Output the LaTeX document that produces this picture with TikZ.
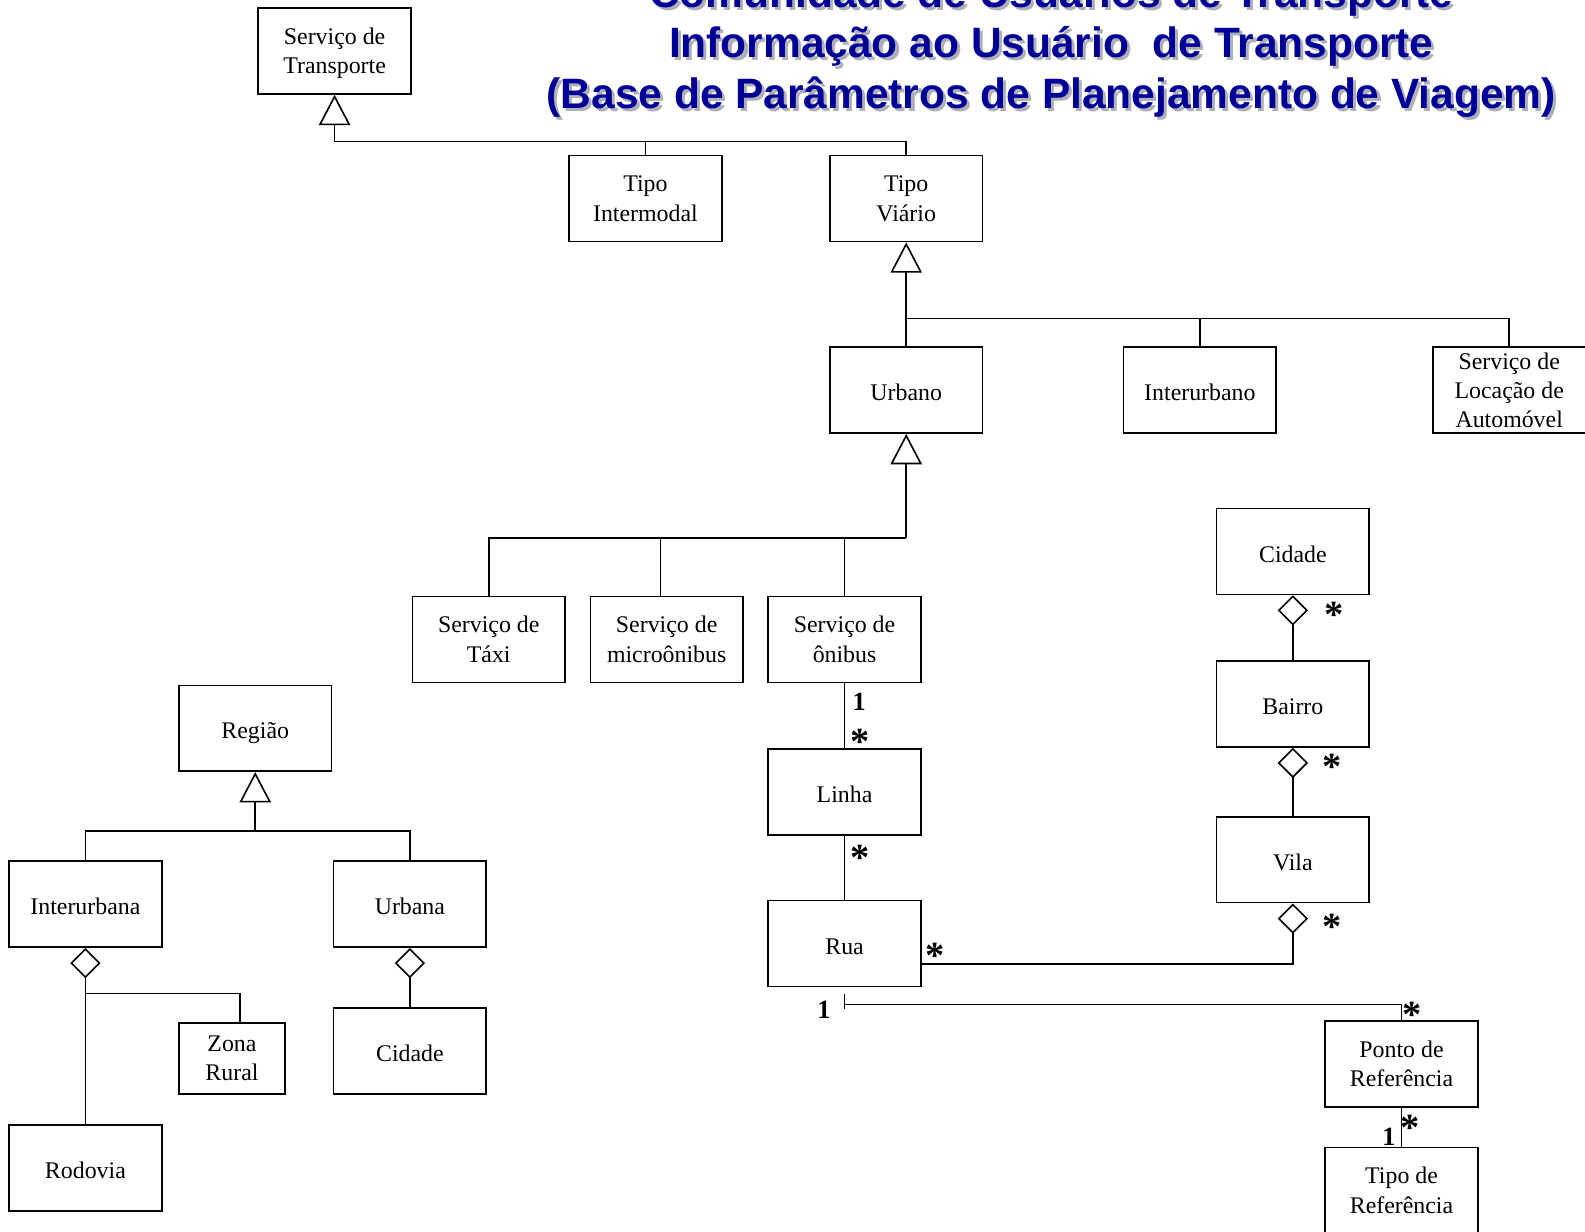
\documentclass[tikz,border=0pt]{standalone}
\usepackage{fontspec}
\setmainfont{Liberation Serif}
\newfontfamily\titlefont{Liberation Sans}
\usepackage{tikz}
\usetikzlibrary{arrows.meta,positioning,calc}
\definecolor{tituloAzul}{RGB}{0,0,153}
\definecolor{sombraCinza}{RGB}{175,175,185}
\tikzset{
	cls/.style={
		draw,
		line width=0.8pt,
		minimum width=75.5pt,
		minimum height=42.5pt,
		align=center,
		inner xsep=2pt,
		inner ysep=0pt,
		text depth=0pt,
		font=\fontsize{11.8}{14.5}\selectfont,
		execute at begin node={\rule{0pt}{10.5pt}}
	},
	gen/.style={-{Triangle[open,length=15pt,width=15.5pt]}, line width=0.8pt},
	agg/.style={{Diamond[open,length=15pt,width=15pt]}-, line width=0.8pt},
	assoc/.style={line width=0.8pt},
	multlbl/.style={font=\bfseries\fontsize{13}{13}\selectfont, inner sep=0pt},
	astlbl/.style={font=\bfseries\fontsize{19}{19}\selectfont, inner sep=0pt, yshift=-3pt},
	titulo/.style={font=\titlefont\bfseries\fontsize{21}{25}\selectfont, text=tituloAzul, inner sep=0pt, anchor=base}
}

\begin{document}
\begin{tikzpicture}[x=0.5pt, y=-0.5pt]
		\useasboundingbox (0,0) rectangle (1568,1218);
		\clip (0,0) rectangle (1568,1218);
		% titulo
		\foreach \yy/\txt in {7/{Comunidade de Usuários de Transporte},
		                      57/{Informação ao Usuário\ \ de Transporte},
		                      107/{(Base de Parâmetros de Planejamento de Viagem)}}{
			\node[titulo, text=sombraCinza] at (1043,\yy+3) {\txt};
			\node[titulo] at (1040,\yy) {\txt};
		}
		% hierarquia de servicos
		\node[cls] (servTransp) at (331,50.5) {Serviço de\\Transporte};
		\node[cls] (tInter) at (638.5,196.5) {Tipo\\Intermodal};
		\node[cls] (tViario) at (896.5,196.5) {Tipo\\Viário};
		\node[cls] (urbano) at (896.5,386) {Urbano};
		\node[cls] (interurbano) at (1187,386) {Interurbano};
		\node[cls] (locacao) at (1493,386) {Serviço de\\Locação de\\Automóvel};
		\node[cls] (taxi) at (483.5,632.5) {Serviço de\\Táxi};
		\node[cls] (micro) at (659.5,632.5) {Serviço de\\microônibus};
		\node[cls] (onibus) at (835.5,632.5) {Serviço de\\ônibus};
		\node[cls] (linha) at (835.5,783.5) {Linha};
		\node[cls] (rua) at (835.5,933.5) {Rua};
		\node[cls] (cidadeD) at (1279,545.5) {Cidade};
		\node[cls] (bairro) at (1279,696.5) {Bairro};
		\node[cls] (vila) at (1279,850.5) {Vila};
		\node[cls] (ponto) at (1386.5,1052.5) {Ponto de\\Referência};
		\node[cls] (tipoRef) at (1386.5,1177.5) {Tipo de\\Referência};
		% regioes
		\node[cls] (regiao) at (252.5,720.5) {Região};
		\node[cls] (interurbana) at (84.5,894.5) {Interurbana};
		\node[cls] (urbana) at (405.5,894.5) {Urbana};
		\node[cls, minimum width=52.5pt, minimum height=35pt] (zona) at (229.5,1047) {Zona\\Rural};
		\node[cls] (cidadeE) at (405.5,1039.5) {Cidade};
		\node[cls] (rodovia) at (84.5,1155.5) {Rodovia};

		\coordinate (busT) at (331,140);
		\coordinate (busV) at (896.5,315);
		\coordinate (busU) at (896.5,532);
		\coordinate (busR) at (252.5,822);
		\coordinate (busZ) at (84.5,983);

		% generalizacoes
		\draw[gen] (busT) -- (servTransp.south);
		\draw[assoc] (tInter.north) |- (busT);
		\draw[assoc] (tViario.north) |- (busT);
		\draw[gen] (urbano.north) -- (tViario.south);
		\draw[assoc] (interurbano.north) |- (busV);
		\draw[assoc] (locacao.north) |- (busV);
		\draw[gen] (busU) -- (urbano.south);
		\draw[assoc] (taxi.north) |- (busU);
		\draw[assoc] ([xshift=-3pt]micro.north) |- (busU);
		\draw[assoc] (onibus.north) |- (busU);
		\draw[gen] (busR) -- (regiao.south);
		\draw[assoc] (interurbana.north) |- (busR);
		\draw[assoc] (urbana.north) |- (busR);

		% agregacoes
		\draw[agg] (interurbana.south) -- (rodovia.north);
		\draw[assoc] ([xshift=4pt]zona.north) |- (busZ);
		\draw[agg] (urbana.south) -- (cidadeE.north);
		\draw[agg] (cidadeD.south) -- (bairro.north);
		\draw[agg] (bairro.south) -- (vila.north);
		\draw[agg] (vila.south) |- ([yshift=-10pt]rua.east);

		% associacoes
		\draw[assoc] (onibus.south) -- (linha.north);
		\draw[assoc] (linha.south) -- (rua.north);
		\draw[assoc] ([yshift=-3.5pt]rua.south) -- ([yshift=-10.5pt]rua.south);
		\draw[assoc] ([yshift=-8.5pt]rua.south) -| (ponto.north);
		\draw[assoc] (ponto.south) -- (tipoRef.north);

		% multiplicidades
		\node[multlbl] (m1) at (850,694) {1};
		\node[astlbl] (m2) at (851,728) {*};
		\node[astlbl] (m3) at (851,843) {*};
		\node[astlbl] (m4) at (925,940) {*};
		\node[astlbl] (m5) at (1318,911) {*};
		\node[astlbl] (m6) at (1320,602) {*};
		\node[astlbl] (m7) at (1318,753) {*};
		\node[multlbl] (m8) at (815,999) {1};
		\node[astlbl] (m9) at (1397,998) {*};
		\node[astlbl] (m10) at (1395,1110) {*};
		\node[multlbl] (m11) at (1374,1125) {1};
	\end{tikzpicture}
\end{document}
